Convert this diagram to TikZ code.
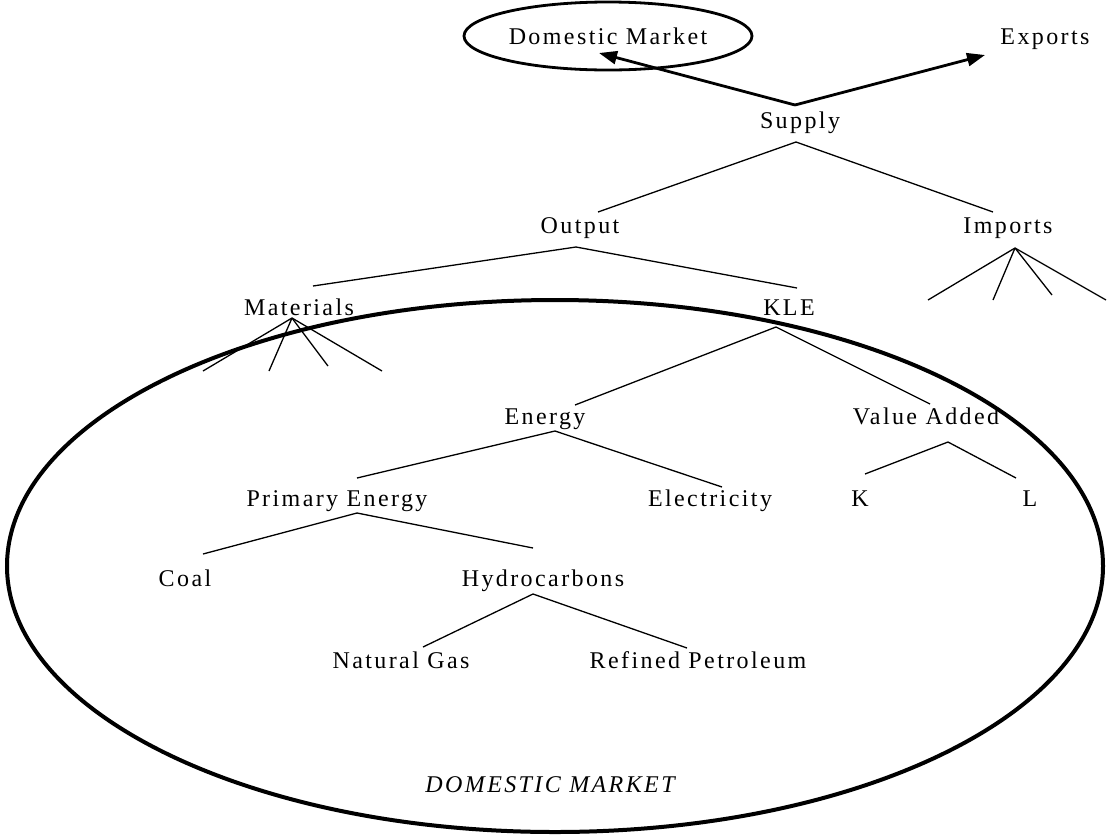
\documentclass[tikz,border=0pt]{standalone}
\usepackage{fontspec}
\setmainfont{Liberation Serif}[LetterSpace=10]
\usetikzlibrary{arrows.meta,shapes.geometric}

\begin{document}
\begin{tikzpicture}[x=0.5pt,y=-0.5pt,
    lbl/.style={inner sep=0pt, anchor=base, font=\fontsize{12}{14}\selectfont},
    branch/.style={line width=0.65pt},
    flow/.style={line width=1.4pt, -{Triangle[length=9pt,width=6.5pt]}}]
    \useasboundingbox (0,0) rectangle (1108,836);

    % Draw the big domestic market oval
    \draw[line width=2pt] (555,566) ellipse [x radius=274pt, y radius=133pt];
    \node[lbl, font=\fontsize{12}{14}\selectfont\itshape] (dmbig) at (550,792) {DOMESTIC MARKET};

    % Draw the top labels
    \node[draw, ellipse, line width=1.4pt, inner sep=0pt, minimum width=144pt, minimum height=34pt,
          font=\fontsize{12}{14}\selectfont] (dm) at (608,36) {Domestic Market};
    \node[lbl] (exports) at (1045,44) {Exports};
    \node[lbl] (supply) at (800,128) {Supply};

    % Draw the tree labels
    \node[lbl] (output) at (580,233) {Output};
    \node[lbl] (imports) at (1008,233) {Imports};
    \node[lbl] (materials) at (299,315) {Materials};
    \node[lbl] (kle) at (789,315) {KLE};
    \node[lbl] (energy) at (545,424) {Energy};
    \node[lbl] (valadd) at (926,424) {Value Added};
    \node[lbl] (primary) at (337,506) {Primary Energy};
    \node[lbl] (elec) at (710,506) {Electricity};
    \node[lbl] (k) at (860,506) {K};
    \node[lbl] (l) at (1030,506) {L};
    \node[lbl] (coal) at (185,586) {Coal};
    \node[lbl] (hydro) at (543,586) {Hydrocarbons};
    \node[lbl] (gas) at (401,668) {Natural Gas};
    \node[lbl] (petrol) at (698,668) {Refined Petroleum};

    % Draw the arrows out of supply
    \coordinate (supply-top) at (795,105);
    \coordinate (dm-tip) at (599,53);
    \coordinate (exports-tip) at (985,55);
    \draw[flow] (supply-top) -- (dm-tip);
    \draw[flow] (supply-top) -- (exports-tip);

    % Draw the forks and branch ends
    \coordinate (supply-fork) at (796,142);
    \coordinate (output-top) at (598,212);
    \coordinate (imports-top) at (993,212);
    \coordinate (output-fork) at (576,247);
    \coordinate (materials-top) at (313,286);
    \coordinate (kle-top) at (797,288);
    \coordinate (materials-fork) at (292,318);
    \coordinate (imports-fork) at (1015,248);
    \coordinate (kle-fork) at (776,327);
    \coordinate (energy-top) at (575,405);
    \coordinate (valadd-top) at (930,404);
    \coordinate (energy-fork) at (555,431);
    \coordinate (primary-top) at (357,478);
    \coordinate (elec-top) at (722,487);
    \coordinate (valadd-fork) at (948,442);
    \coordinate (k-top) at (865,474);
    \coordinate (l-top) at (1016,478);
    \coordinate (primary-fork) at (357,513);
    \coordinate (coal-top) at (203,554);
    \coordinate (hydro-top) at (533,548);
    \coordinate (hydro-fork) at (533,594);
    \coordinate (gas-top) at (423,647);
    \coordinate (petrol-top) at (687,648);

    % Draw the branches
    \draw[branch] (output-top) -- (supply-fork) -- (imports-top);
    \draw[branch] (materials-top) -- (output-fork) -- (kle-top);
    \draw[branch] (energy-top) -- (kle-fork) -- (valadd-top);
    \draw[branch] (primary-top) -- (energy-fork) -- (elec-top);
    \draw[branch] (k-top) -- (valadd-fork) -- (l-top);
    \draw[branch] (coal-top) -- (primary-fork) -- (hydro-top);
    \draw[branch] (gas-top) -- (hydro-fork) -- (petrol-top);

    % Draw the open legs under materials and imports
    \foreach \x/\y [count=\i] in {203/371,269/371,328/366,382/371} {
        \coordinate (materials-leg\i) at (\x,\y);
        \draw[branch] (materials-fork) -- (materials-leg\i);
    }
    \foreach \x/\y [count=\i] in {928/300,993/300,1052/295,1106/300} {
        \coordinate (imports-leg\i) at (\x,\y);
        \draw[branch] (imports-fork) -- (imports-leg\i);
    }
\end{tikzpicture}
\end{document}
